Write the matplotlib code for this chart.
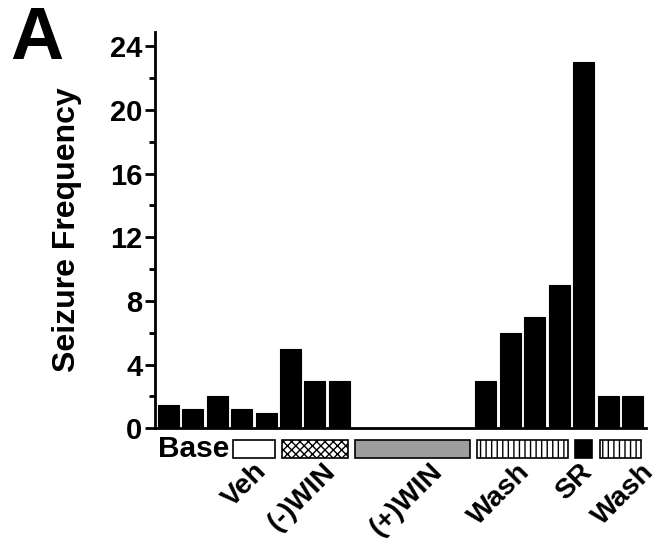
"""Seizure frequency per bin across treatment periods (panel A)."""
import matplotlib
matplotlib.use("Agg")
import matplotlib.pyplot as plt
import matplotlib.transforms as mtransforms
from matplotlib.patches import Rectangle

plt.rcParams["font.family"] = ["Liberation Sans", "DejaVu Sans"]
plt.rcParams["font.weight"] = "bold"
plt.rcParams["hatch.linewidth"] = 1.0

# bar values, one per recording bin
seizures = [1.45, 1.2, 2, 1.2, 0.95, 5, 3, 3, 0, 0, 0, 0, 0, 3, 6, 7, 9, 23, 2, 2]

# treatment periods: label, first bin, last bin
periods = ["Veh", "(-)WIN", "(+)WIN", "Wash", "SR", "Wash"]
period_start = [3, 5, 8, 13, 17, 18]
period_end = [4, 7, 12, 16, 17, 19]
period_face = ["white", "white", "#9e9e9e", "white", "black", "white"]
period_hatch = [None, "xxxx", None, "|||", None, "|||"]

yticks = [0, 4, 8, 12, 16, 20, 24]

# where each rotated label ends (x in bar units), hand placed like the figure
label_x = [3.5, 6.3, 10.7, 14.25, 16.8, 19.35]


def main():
    fig = plt.figure(figsize=(6.6, 5.45), dpi=100)
    ax = fig.add_axes([0.2348, 0.2141, 0.744, 0.7272])

    x = list(range(len(seizures)))
    ax.bar(x, seizures, width=0.86, color="black", edgecolor="black", linewidth=0.8)

    ax.set_xlim(-0.55, 19.55)
    ax.set_ylim(0, 24.9)
    ax.set_yticks(yticks)
    ax.set_yticks([2, 6, 10, 14, 18, 22], minor=True)
    ax.set_xticks([])
    ax.tick_params(axis="y", which="major", length=7, width=2, labelsize=21, pad=2)
    ax.tick_params(axis="y", which="minor", length=4, width=2)
    for lab in ax.get_yticklabels():
        lab.set_fontweight("bold")

    for side in ("top", "right"):
        ax.spines[side].set_visible(False)
    for side in ("left", "bottom"):
        ax.spines[side].set_linewidth(2)

    ax.set_ylabel("Seizure Frequency", fontsize=23, fontweight="bold")
    ax.yaxis.set_label_coords(-0.148, 0.5)

    # treatment boxes below the axis
    trans = mtransforms.blended_transform_factory(ax.transData, ax.transAxes)
    box_top, box_h = -0.029, 0.045
    for s, e, fc, h in zip(period_start, period_end, period_face, period_hatch):
        left = s - 0.43 + 0.08
        width = (e - s) + 0.86 - 0.16
        ax.add_patch(Rectangle((left, box_top - box_h), width, box_h, transform=trans,
                               facecolor=fc, edgecolor="black", linewidth=1.2,
                               hatch=h, clip_on=False))
    for lab, lx in zip(periods, label_x):
        ax.text(lx, -0.076, lab, transform=trans,
                rotation=45, rotation_mode="anchor", ha="right", va="top",
                fontsize=20.5, fontweight="bold")

    ax.text(2.5, -0.0724, "Base", transform=trans, ha="right", va="baseline",
            fontsize=21.5, fontweight="bold")

    fig.text(0.016, 0.990, "A", ha="left", va="top", fontsize=53, fontweight="bold")

    fig.savefig("out.png", dpi=100)
    plt.close(fig)


if __name__ == "__main__":
    main()
